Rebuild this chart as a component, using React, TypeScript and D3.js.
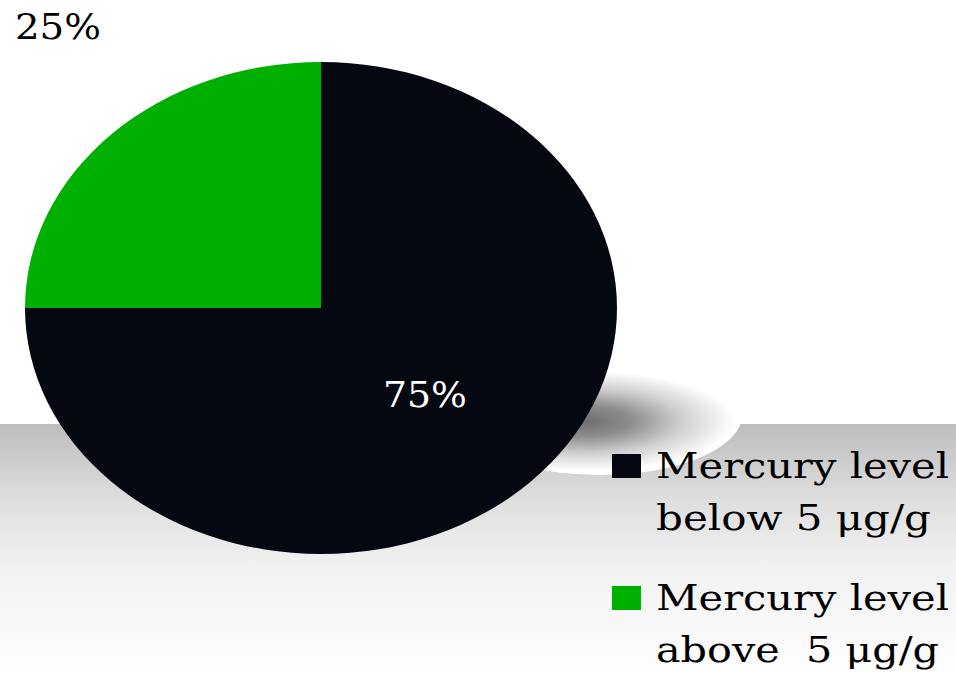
import React from "react";
import * as d3 from "d3";

const categories = ["Mercury level below 5 μg/g", "Mercury level above  5 μg/g"];
const legendLines = [["Mercury level", "below 5 μg/g"], ["Mercury level", "above  5 μg/g"]];
const legendWidths = [[293, 275], [293, 283]];
const values = [75, 25];
const labels = ["75%", "25%"];
const colors = ["#050810", "#00b000"];

const W = 956;
const H = 674;

export default function App() {
  const cx = 321, cy = 308, rx = 296, ry = 246;
  const pie = d3.pie<number>().sort(null).startAngle(0).endAngle(2 * Math.PI);
  const arcs = pie(values);
  const arc = d3.arc<d3.PieArcDatum<number>>().innerRadius(0).outerRadius(1);
  const font = "'DejaVu Serif', serif";
  const labelPos = [
    { x: 383, y: 407, w: 84, fill: "#ffffff" },
    { x: 15, y: 39, w: 86, fill: "#000000" },
  ];
  return (
    <svg width={W} height={H} style={{ position: "absolute", left: 0, top: 0, display: "block" }}>
      <defs>
        <linearGradient id="band" x1="0" y1="0" x2="0" y2="1">
          <stop offset="0" stopColor="#bdbdbd" />
          <stop offset="0.3" stopColor="#dedede" />
          <stop offset="0.55" stopColor="#f0f0f0" />
          <stop offset="1" stopColor="#ffffff" />
        </linearGradient>
        <radialGradient id="shadow" cx="0.5" cy="0.5" r="0.5">
          <stop offset="0" stopColor="#6e6e6e" />
          <stop offset="0.3" stopColor="#8c8c8c" />
          <stop offset="0.65" stopColor="#d0d0d0" />
          <stop offset="1" stopColor="#ffffff" />
        </radialGradient>
        <clipPath id="blobClip">
          <ellipse cx={600} cy={415} rx={142} ry={60} />
        </clipPath>
      </defs>
      <rect x={0} y={0} width={W} height={H} fill="#ffffff" />
      <rect x={0} y={424} width={W} height={H - 424} fill="url(#band)" />
      <ellipse cx={600} cy={415} rx={142} ry={60} fill="#ffffff" />
      <g clipPath="url(#blobClip)">
        <ellipse cx={585} cy={421} rx={150} ry={50} fill="url(#shadow)" />
      </g>
      <g transform={`translate(${cx},${cy}) scale(${rx},${ry})`}>
        {arcs.map((a, i) => (
          <path key={i} d={arc(a) || ""} fill={colors[i]} />
        ))}
      </g>
      {labels.map((t, i) => (
        <text
          key={i}
          x={labelPos[i].x}
          y={labelPos[i].y}
          fill={labelPos[i].fill}
          fontFamily={font}
          fontSize={36}
          textLength={labelPos[i].w}
          lengthAdjust="spacingAndGlyphs"
        >
          {t}
        </text>
      ))}
      {categories.map((c, i) => {
        const top = i === 0 ? 454 : 586;
        return (
          <g key={c}>
            <rect x={612} y={top} width={29} height={24} fill={colors[i]} />
            <text
              x={656}
              y={top + 24}
              fontFamily={font}
              fontSize={36}
              fill="#000"
              textLength={legendWidths[i][0]}
              lengthAdjust="spacingAndGlyphs"
              style={{ whiteSpace: "pre" }}
            >
              {legendLines[i][0]}
            </text>
            <text
              x={656}
              y={top + 76}
              fontFamily={font}
              fontSize={36}
              fill="#000"
              textLength={legendWidths[i][1]}
              lengthAdjust="spacingAndGlyphs"
              style={{ whiteSpace: "pre" }}
            >
              {legendLines[i][1]}
            </text>
          </g>
        );
      })}
    </svg>
  );
}
